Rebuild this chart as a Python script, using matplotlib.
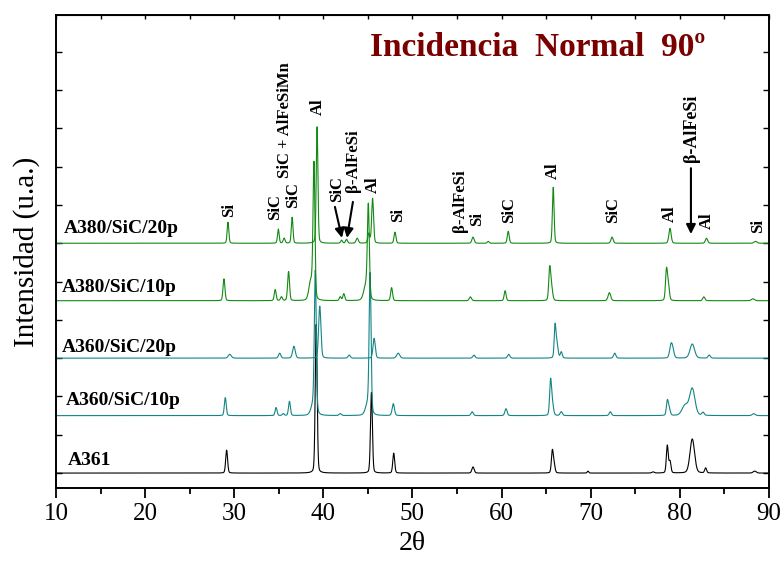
import matplotlib
matplotlib.use("Agg")
import matplotlib.pyplot as plt
import numpy as np

plt.rcParams['font.family'] = ['Liberation Serif', 'DejaVu Serif']
plt.rcParams['mathtext.fontset'] = 'stix'

# peak lists per sample: position (2theta), height (a.u.), FWHM (deg)
samples = ['A361', 'A360/SiC/10p', 'A360/SiC/20p', 'A380/SiC/10p', 'A380/SiC/20p']
offsets = [0.0, 1.5, 3.0, 4.5, 6.0]
colors = ['black', '#138585', '#138585', '#138a13', '#138a13']

a361_pos = [29.15, 39.2, 45.4, 47.9, 56.8, 65.7, 65.9, 69.7, 77.0, 78.6, 78.9, 81.4, 82.9, 88.4]
a361_h = [0.60, 3.89, 2.11, 0.52, 0.16, 0.58, 0.20, 0.05, 0.03, 0.72, 0.30, 0.89, 0.13, 0.05]
a361_w = [0.25, 0.25, 0.25, 0.25, 0.30, 0.25, 0.25, 0.20, 0.30, 0.25, 0.25, 0.60, 0.25, 0.40]

a360_10_pos = [29.0, 34.7, 35.5, 36.2, 38.9, 39.1, 41.9, 45.0, 45.25, 47.85, 56.7, 60.5,
               65.5, 65.7, 66.7, 72.2, 78.6, 78.8, 80.6, 81.4, 82.6, 88.3]
a360_10_h = [0.47, 0.21, 0.05, 0.37, 0.30, 3.60, 0.05, 0.30, 3.55, 0.31, 0.10, 0.18,
             0.88, 0.30, 0.10, 0.10, 0.36, 0.18, 0.26, 0.70, 0.08, 0.05]
a360_10_w = [0.25, 0.25, 0.25, 0.25, 0.60, 0.25, 0.30, 0.60, 0.25, 0.30, 0.30, 0.30,
             0.25, 0.30, 0.30, 0.30, 0.25, 0.30, 0.80, 0.70, 0.30, 0.40]

a360_20_pos = [29.5, 35.1, 36.7, 39.6, 42.9, 45.7, 48.4, 56.9, 60.8, 66.0, 66.2, 66.7,
               72.7, 79.0, 79.2, 81.4, 83.3]
a360_20_h = [0.10, 0.13, 0.31, 1.36, 0.08, 0.52, 0.13, 0.08, 0.10, 0.78, 0.40, 0.16,
             0.13, 0.30, 0.20, 0.37, 0.08]
a360_20_w = [0.40, 0.30, 0.35, 0.30, 0.30, 0.30, 0.40, 0.30, 0.30, 0.22, 0.30, 0.25,
             0.30, 0.35, 0.35, 0.60, 0.30]

a380_10_pos = [28.85, 34.6, 35.3, 36.1, 38.6, 38.95, 41.9, 42.3, 44.8, 45.05, 47.66, 56.5,
               60.4, 65.4, 65.6, 72.1, 78.5, 78.7, 82.7, 88.2]
a380_10_h = [0.57, 0.29, 0.10, 0.76, 0.50, 3.50, 0.10, 0.18, 0.40, 2.30, 0.34, 0.10,
             0.26, 0.80, 0.35, 0.21, 0.74, 0.40, 0.10, 0.05]
a380_10_w = [0.25, 0.25, 0.25, 0.25, 0.50, 0.25, 0.25, 0.25, 0.60, 0.25, 0.25, 0.30,
             0.25, 0.25, 0.30, 0.35, 0.25, 0.30, 0.30, 0.40]

a380_20_pos = [29.3, 34.95, 35.6, 36.5, 39.3, 42.05, 42.6, 43.8, 45.1, 45.53, 48.04, 56.8,
               58.5, 60.75, 65.8, 72.4, 78.9, 83.0, 88.5]
a380_20_h = [0.55, 0.37, 0.13, 0.68, 3.05, 0.08, 0.10, 0.13, 0.25, 1.17, 0.29, 0.16,
             0.05, 0.31, 1.46, 0.16, 0.39, 0.13, 0.05]
a380_20_w = [0.22, 0.22, 0.25, 0.22, 0.22, 0.25, 0.25, 0.30, 0.25, 0.25, 0.25, 0.30,
             0.25, 0.25, 0.22, 0.30, 0.30, 0.30, 0.40]

peaks = [
    (a361_pos, a361_h, a361_w),
    (a360_10_pos, a360_10_h, a360_10_w),
    (a360_20_pos, a360_20_h, a360_20_w),
    (a380_10_pos, a380_10_h, a380_10_w),
    (a380_20_pos, a380_20_h, a380_20_w),
]

# phase labels over the top pattern: text, 2theta, bottom of text
phase_txt = ['Si', 'SiC', 'SiC', 'SiC + AlFeSiMn', 'Al', 'SiC', 'β-AlFeSi', 'Al', 'Si',
             'β-AlFeSi', 'Si', 'SiC', 'Al', 'SiC', 'Al', 'β-AlFeSi', 'Al', 'Si']
phase_x = [29.41, 34.63, 36.59, 35.69, 39.40, 41.53, 43.32, 45.57, 48.37,
           55.33, 57.24, 60.83, 65.76, 72.50, 78.89, 81.36, 83.04, 88.77]
phase_y = [6.68, 6.61, 6.92, 7.70, 9.35, 7.08, 7.34, 7.31, 6.55,
           6.29, 6.44, 6.53, 7.68, 6.53, 6.55, 8.12, 6.37, 6.27]

two_theta = np.linspace(10, 90, 4000)


def pattern(pos, h, w):
    y = np.zeros_like(two_theta)
    for p, a, f in zip(pos, h, w):
        s = f / 2.3548
        g = np.exp(-0.5 * ((two_theta - p) / s) ** 2)
        l = 1.0 / (1.0 + ((two_theta - p) / (f / 2)) ** 2)
        y += a * (0.8 * g + 0.2 * l)
    return y


fig = plt.figure(figsize=(7.83, 5.63), dpi=100)
ax = fig.add_axes([0.0715, 0.1332, 0.9105, 0.8402])

for (pos, h, w), off, c in zip(peaks, offsets, colors):
    ax.plot(two_theta, pattern(pos, h, w) + off, color=c, lw=0.8)

ax.set_xlim(10, 90)
ax.set_ylim(-0.39, 11.96)
ax.set_xticks(np.arange(10, 91, 10))
ax.set_xticks(np.arange(15, 90, 10), minor=True)
ax.set_yticks(np.arange(0, 12))
ax.set_yticklabels([])
ax.tick_params(axis='x', which='major', direction='out', length=7, width=1.3,
               labelsize=18, top=False, pad=4)
ax.tick_params(axis='x', which='minor', direction='out', length=4, width=1.3, top=False)
ax.tick_params(axis='y', direction='in', length=4, width=1.0, right=True)
for s in ax.spines.values():
    s.set_linewidth(1.4)

# small inward ticks along the top edge
top = ax.secondary_xaxis('top')
top.set_xticks(np.arange(10, 91, 5))
top.set_xticklabels([])
top.tick_params(direction='in', length=3, width=1.0)

ax.set_xlabel('2θ', fontsize=20, labelpad=4)
ax.set_ylabel('Intensidad (u.a.)', fontsize=21, labelpad=8)

label_x = [11.35, 11.12, 10.67, 10.67, 10.9]
label_y = [0.21, 1.78, 3.16, 4.73, 6.27]
for name, lx, ly in zip(samples, label_x, label_y):
    ax.text(lx, ly, name, fontsize=14, fontweight='bold', ha='left', va='baseline')

for t, px, py in zip(phase_txt, phase_x, phase_y):
    fs = 13 if (t == 'β-AlFeSi' and px > 80) else 12
    ax.text(px, py, t, rotation=90, fontsize=fs, fontweight='bold',
            ha='center', va='bottom')

arrow_kw = dict(arrowstyle='-|>', color='black', lw=1.5, mutation_scale=14,
                shrinkA=0, shrinkB=0)
ax.annotate('', xy=(42.09, 6.14), xytext=(41.30, 6.95), arrowprops=arrow_kw)
ax.annotate('', xy=(42.65, 6.14), xytext=(43.32, 7.08), arrowprops=arrow_kw)
ax.annotate('', xy=(81.25, 6.24), xytext=(81.25, 7.96), arrowprops=arrow_kw)

ax.text(45.23, 11.12, 'Incidencia  Normal  90º', fontsize=24, fontweight='bold',
        color='#7a0000', ha='left', va='center')

fig.savefig('out.png', dpi=100)
